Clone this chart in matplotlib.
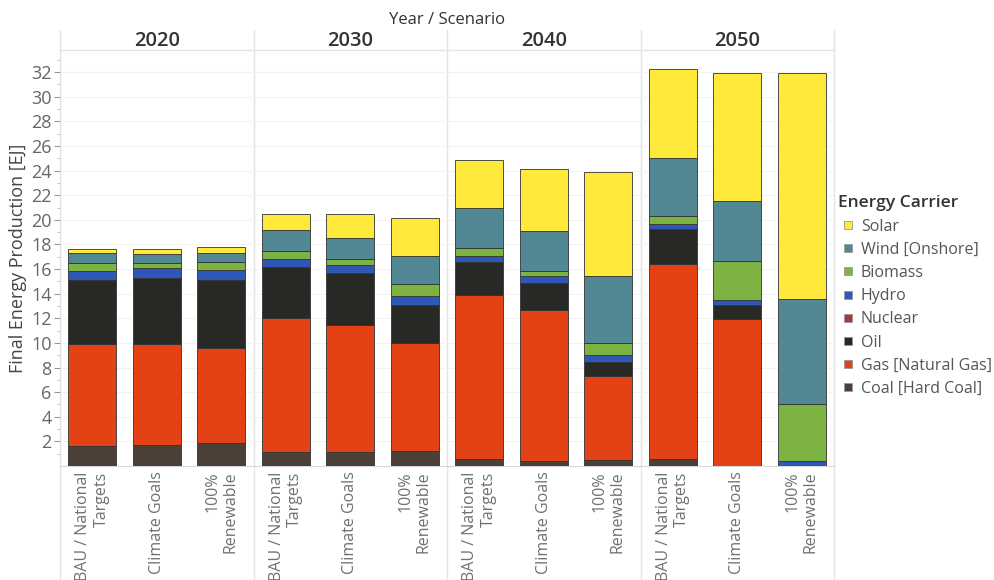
import matplotlib
matplotlib.use("Agg")
import matplotlib.pyplot as plt
from matplotlib.lines import Line2D
import numpy as np

plt.rcParams['font.family'] = ['Open Sans', 'DejaVu Sans']

years = ['2020', '2030', '2040', '2050']
scenarios = ['BAU / National\nTargets', 'Climate Goals', '100%\nRenewable']

# stacking order bottom -> top; one value per bar (year x scenario)
carriers = ['Coal [Hard Coal]', 'Gas [Natural Gas]', 'Oil', 'Nuclear',
            'Hydro', 'Biomass', 'Wind [Onshore]', 'Solar']
colors = ['#4b3f37', '#e34214', '#282825', '#b2323c',
          '#2f57b9', '#7db342', '#528893', '#ffe93b']

coal    = [1.65, 1.71, 1.87, 1.16, 1.16, 1.24, 0.57, 0.41, 0.46, 0.59, 0.00, 0.00]
gas     = [8.25, 8.20, 7.69, 10.83, 10.32, 8.78, 13.29, 12.26, 6.88, 15.82, 11.91, 0.00]
oil     = [5.20, 5.36, 5.55, 4.18, 4.20, 3.06, 2.71, 2.20, 1.11, 2.84, 1.19, 0.00]
nuclear = [0.00, 0.00, 0.00, 0.00, 0.00, 0.00, 0.00, 0.00, 0.00, 0.00, 0.00, 0.00]
hydro   = [0.76, 0.81, 0.78, 0.65, 0.65, 0.70, 0.49, 0.53, 0.54, 0.41, 0.38, 0.43]
biomass = [0.67, 0.41, 0.65, 0.65, 0.45, 1.00, 0.65, 0.44, 1.00, 0.67, 3.17, 4.61]
wind    = [0.76, 0.73, 0.76, 1.73, 1.74, 2.30, 3.25, 3.25, 5.44, 4.69, 4.88, 8.53]
solar   = [0.38, 0.43, 0.49, 1.27, 1.95, 3.07, 3.87, 5.06, 8.45, 7.23, 10.42, 18.38]

series = [coal, gas, oil, nuclear, hydro, biomass, wind, solar]

fig = plt.figure(figsize=(9.95, 5.8), dpi=100)
ax = fig.add_axes([60/995, 114/580, 774/995, 416/580])

x = np.arange(len(years) * len(scenarios))
bottom = np.zeros(len(x))
for vals, col, name in zip(series, colors, carriers):
    vals = np.array(vals)
    ax.bar(x, vals, bottom=bottom, width=0.75, color=col, edgecolor='#333333',
           linewidth=0.6, label=name, zorder=3)
    bottom += vals

ax.set_xlim(-0.5, len(x) - 0.5)
ax.set_ylim(0, 33.8)
ax.set_yticks(np.arange(2, 33, 2))
ax.set_yticks(np.arange(1, 34, 2), minor=True)
ax.tick_params(axis='y', which='major', labelsize=13, colors='#999999',
               labelcolor='#666666', length=4, width=0.8, pad=2)
ax.tick_params(axis='y', which='minor', length=2, colors='#bbbbbb')
ax.yaxis.grid(True, color='#f2f2f2', linewidth=0.8, zorder=0)
ax.set_ylabel('Final Energy Production [EJ]', fontsize=13, color='#444444',
              labelpad=3, fontweight='medium')

ax.set_xticks(x)
ax.set_xticklabels(scenarios * len(years), rotation=90, fontsize=11.5,
                   color='#707070', va='top', ha='center', multialignment='right')
ax.tick_params(axis='x', length=0, pad=4)

for s in ['top', 'right', 'left']:
    ax.spines[s].set_visible(False)
ax.spines['bottom'].set_color('#d8d8d8')

# panel dividers and header line
for b in [-0.5, 2.5, 5.5, 8.5, 11.5]:
    ax.axvline(b, ymin=-114/416, ymax=1 + 20/416, color='#e4e4e4',
               linewidth=1, clip_on=False, zorder=1)
ax.plot([-0.5, 11.5], [1, 1], transform=ax.get_xaxis_transform(),
        color='#e4e4e4', linewidth=1, clip_on=False)

trans = ax.get_xaxis_transform()
for i, yr in enumerate(years):
    ax.text(i * 3 + 1, 1 + 9/416, yr, transform=trans, ha='center', va='center',
            fontsize=14.5, fontweight='semibold', color='#333333')
ax.text(5.5, 1 + 30/416, 'Year / Scenario', transform=trans, ha='center',
        va='center', fontsize=12, fontweight='medium', color='#333333')

handles = [Line2D([], [], marker='s', linestyle='none', markersize=6,
                  markerfacecolor=c, markeredgecolor='#999999', markeredgewidth=0.6)
           for c in colors[::-1]]
leg = fig.legend(handles, carriers[::-1], loc='upper left',
                 bbox_to_anchor=(832/995, 1 - 189/580), frameon=False,
                 title='Energy Carrier', fontsize=11.5, labelspacing=0.45,
                 handletextpad=0.2, handlelength=1.2, borderaxespad=0)
leg._legend_box.align = 'left'
leg.get_title().set_fontsize(12.5)
leg.get_title().set_fontweight('semibold')
leg.get_title().set_color('#333333')
for t in leg.get_texts():
    t.set_color('#555555')

fig.savefig('out.png', dpi=100)
